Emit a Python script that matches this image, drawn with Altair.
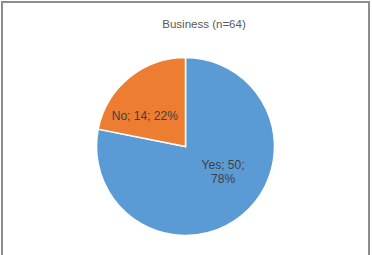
import altair as alt
import pandas as pd

categories = ["Yes", "No"]
counts = [50, 14]
percents = ["78%", "22%"]
colors = ["#5B9BD5", "#ED7D31"]
title_text = "Business (n=64)"

df = pd.DataFrame({"category": categories, "count": counts, "pct": percents,
                   "order": list(range(len(categories)))})
df["label1"] = df["category"] + "; " + df["count"].astype(str) + ";"
df["labelfull"] = df["label1"] + " " + df["pct"]
df["labelbreak"] = df["label1"] + "\n" + df["pct"]

CX, CY = 183.5, 144.5

base = alt.Chart(df).encode(
    theta=alt.Theta("count:Q", stack=True),
    order=alt.Order("order:Q"),
    x=alt.value(CX), y=alt.value(CY),
)

pie = base.mark_arc(radius=89, stroke="white", strokeWidth=1.5).encode(
    color=alt.Color("category:N", scale=alt.Scale(domain=categories, range=colors), legend=None)
)

txt_no = base.mark_text(radius=50, dx=-9, dy=8, fontSize=12, font="Liberation Sans",
                        color="#404040").encode(
    text=alt.condition("datum.category == 'No'", alt.Text("labelfull:N"), alt.value(""))
)
txt_yes = base.mark_text(radius=34, dx=16, dy=-8, fontSize=12, font="Liberation Sans",
                         lineBreak="\n", lineHeight=14, color="#404040").encode(
    text=alt.condition("datum.category == 'Yes'", alt.Text("labelbreak:N"), alt.value(""))
)

title = alt.Chart(pd.DataFrame({"t": [title_text]})).mark_text(
    fontSize=11.5, font="Liberation Sans", color="#595959", baseline="alphabetic"
).encode(text="t:N", x=alt.value(202), y=alt.value(26))

chart = alt.layer(pie, txt_no, txt_yes, title).properties(
    width=367, height=270,
    padding={"left": 2, "top": 2, "right": 3, "bottom": 0},
    autosize=alt.AutoSizeParams(type="none"),
).configure_view(stroke="#8c8c8c", strokeWidth=2)

chart.save("out.html", embed_options={"renderer": "svg", "actions": False})
